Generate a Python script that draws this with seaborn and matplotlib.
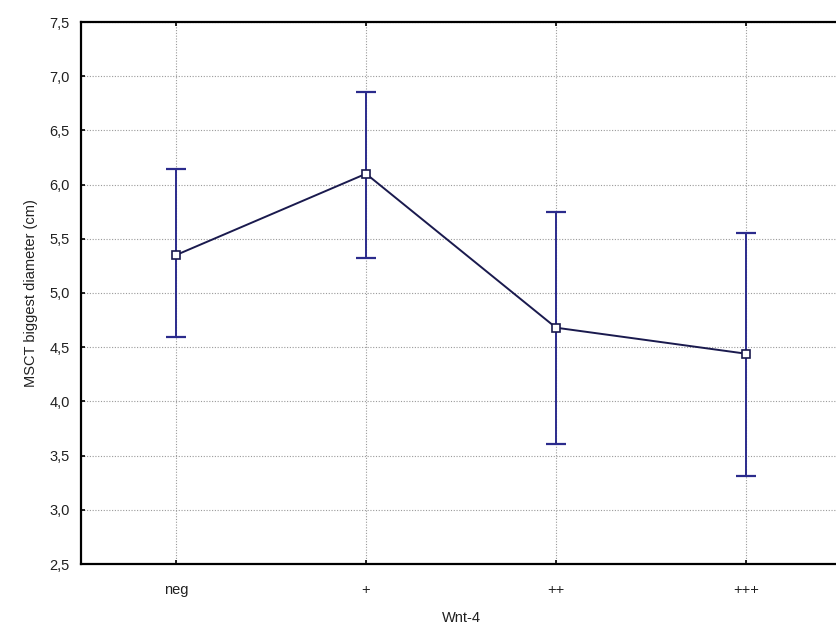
import matplotlib
matplotlib.use('Agg')
import matplotlib.pyplot as plt
from matplotlib.ticker import FuncFormatter
import numpy as np
import pandas as pd
import seaborn as sns

# valores
grupos = ['neg', '+', '++', '+++']
medias = [5.35, 6.10, 4.68, 4.44]
limite_inf = [4.59, 5.32, 3.61, 3.31]
limite_sup = [6.14, 6.85, 5.75, 5.55]

sns.set_theme(style='white')
plt.rcParams['font.family'] = ['Liberation Sans', 'DejaVu Sans']

df = pd.DataFrame({'Wnt-4': grupos, 'media': medias})

fig = plt.figure(figsize=(8.37, 6.31), dpi=100)
ax = fig.add_axes([81 / 837, 67 / 631, 760 / 837, 542 / 631])

cor_barra = '#2b2b8c'
cor_linha = '#1a1a4e'

sns.pointplot(data=df, x='Wnt-4', y='media', order=grupos, errorbar=None,
              color=cor_linha, markers='s', linestyles='-', ax=ax,
              markersize=5.5, linewidth=1.4, zorder=4)
for ln in ax.lines:
    ln.set_markerfacecolor('white')
    ln.set_markeredgecolor(cor_linha)
    ln.set_markeredgewidth(1.2)

pos = np.arange(len(grupos))
err = [np.array(medias) - np.array(limite_inf), np.array(limite_sup) - np.array(medias)]
ax.errorbar(pos, medias, yerr=err, fmt='none', ecolor=cor_barra, elinewidth=1.4,
            capsize=7, capthick=1.6, zorder=3)

ax.set_xlim(-0.5, 3.5)
ax.set_ylim(2.5, 7.5)
ax.set_yticks(np.arange(2.5, 7.51, 0.5))
ax.yaxis.set_major_formatter(FuncFormatter(lambda v, p: f'{v:.1f}'.replace('.', ',')))

ax.grid(True, linestyle=(0, (1, 1.5)), color='#9a9a9a', linewidth=0.8)
ax.set_axisbelow(True)
for s in ax.spines.values():
    s.set_visible(True)
    s.set_color('black')
    s.set_linewidth(1.6)

ax.tick_params(axis='both', direction='in', length=3, width=1.2, color='black',
               labelsize=10.5, labelcolor='#202020', top=True, right=True,
               left=True, bottom=True, pad=8)
ax.tick_params(axis='x', pad=14)

ax.set_xlabel('Wnt-4', fontsize=10.5, labelpad=10, color='#202020')
ax.set_ylabel('MSCT biggest diameter (cm)', fontsize=10.5, labelpad=8, color='#202020')

fig.savefig('out.png', dpi=100)
